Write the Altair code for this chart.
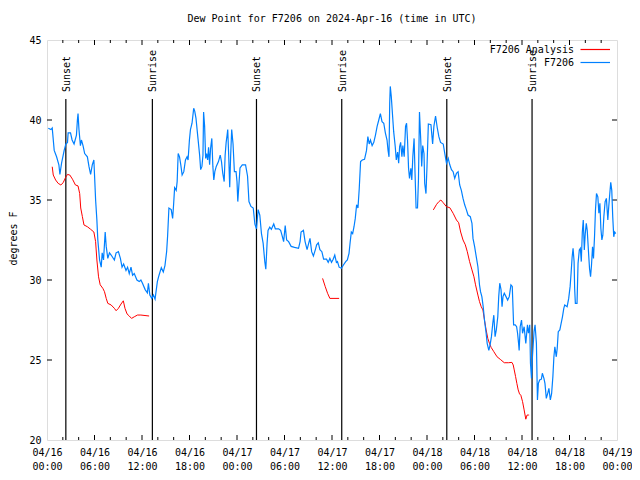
import altair as alt
import pandas as pd

TITLE = "Dew Point for F7206 on 2024-Apr-16 (time in UTC)"
MONO = "DejaVu Sans Mono"

# ---- data (hours since 2024-04-16 00:00 UTC, degrees F) ----
obs_hours = [
    0.16, 0.50, 0.66, 0.91, 1.21, 1.50, 1.63, 1.84, 2.17, 2.38, 2.59, 2.67, 2.97, 3.17, 3.42, 3.72,
    3.84, 3.92, 4.04, 4.22, 4.35, 4.55, 4.76, 5.10, 5.30, 5.51, 5.72, 5.92, 6.01, 6.14, 6.30, 6.42,
    6.64, 6.85, 6.97, 7.14, 7.35, 7.48, 7.68, 7.89, 8.10, 8.51, 8.73, 9.02, 9.27, 9.48, 9.68, 9.98,
    10.18, 10.39, 10.61, 10.81, 11.02, 11.36, 11.65, 11.86, 12.06, 12.40, 12.68, 12.81, 12.99, 13.24,
    13.44, 13.65, 13.94, 14.15, 14.44, 14.69, 14.90, 15.11, 15.24, 15.40, 15.69, 15.87, 15.99, 16.12,
    16.32, 16.44, 16.57, 16.74, 16.90, 17.07, 17.28, 17.49, 17.69, 17.82, 17.99, 18.12, 18.32, 18.53,
    18.66, 18.82, 19.07, 19.28, 19.41, 19.57, 19.70, 19.78, 19.91, 20.04, 20.16, 20.29, 20.41, 20.54,
    20.66, 20.82, 20.95, 21.07, 21.20, 21.38, 21.66, 21.88, 22.04, 22.20, 22.38, 22.50, 22.63, 22.75,
    22.83, 22.95, 23.08, 23.20, 23.33, 23.50, 23.67, 23.88, 24.00, 24.10, 24.38, 24.67, 25.08, 25.33,
    25.51, 25.76, 26.05, 26.26, 26.46, 26.67, 26.88, 27.09, 27.30, 27.51, 27.64, 27.80, 27.92, 28.14,
    28.34, 28.64, 28.84, 29.26, 29.51, 29.68, 29.89, 30.09, 30.27, 30.52, 30.84, 31.27, 31.77, 31.97,
    32.09, 32.39, 32.60, 32.85, 33.06, 33.22, 33.43, 33.65, 33.90, 34.06, 34.27, 34.47, 34.72, 34.94,
    35.31, 35.52, 35.73, 35.94, 36.15, 36.35, 36.56, 36.69, 36.90, 37.19, 37.44, 37.73, 37.94, 38.15,
    38.28, 38.44, 38.61, 38.78, 38.94, 39.11, 39.28, 39.44, 39.61, 39.82, 40.11, 40.36, 40.53, 40.70,
    40.86, 41.07, 41.28, 41.49, 41.70, 41.91, 42.11, 42.32, 42.54, 42.74, 42.95, 43.08, 43.20, 43.29,
    43.36, 43.49, 43.66, 43.79, 43.99, 44.12, 44.29, 44.42, 44.54, 44.67, 44.83, 44.95, 45.12, 45.29,
    45.42, 45.54, 45.67, 45.79, 45.96, 46.08, 46.21, 46.37, 46.49, 46.62, 46.80, 46.92, 47.05, 47.21,
    47.33, 47.46, 47.62, 47.71, 47.87, 48.00, 48.17, 48.50, 48.71, 48.87, 49.08, 49.30, 49.50, 49.71,
    50.05, 50.25, 50.46, 50.68, 50.88, 51.09, 51.30, 51.50, 51.72, 51.93, 52.13, 52.34, 52.55, 52.76,
    52.97, 53.18, 53.47, 53.68, 53.81, 54.01, 54.22, 54.43, 54.63, 54.76, 54.93, 55.10, 55.26, 55.47,
    55.60, 55.81, 55.97, 56.14, 56.31, 56.44, 56.60, 56.76, 56.94, 57.06, 57.19, 57.35, 57.48, 57.60,
    57.76, 57.98, 58.19, 58.39, 58.60, 58.77, 58.94, 59.14, 59.32, 59.44, 59.57, 59.64, 59.77, 59.94,
    60.07, 60.27, 60.48, 60.69, 60.82, 60.98, 61.07, 61.20, 61.32, 61.52, 61.65, 61.82, 61.95, 62.07,
    62.23, 62.45, 62.57, 62.77, 62.90, 63.07, 63.24, 63.40, 63.58, 63.74, 63.90, 64.03, 64.15, 64.33,
    64.45, 64.58, 64.78, 64.95, 65.11, 65.28, 65.40, 65.70, 65.90, 66.08, 66.20, 66.33, 66.45, 66.58,
    66.65, 66.74, 66.95, 67.08, 67.24, 67.37, 67.49, 67.62, 67.74, 67.87, 67.99, 68.12, 68.24, 68.41,
    68.53, 68.66, 68.78, 68.91, 69.03, 69.16, 69.28, 69.41, 69.58, 69.71, 69.84, 69.96, 70.09, 70.21,
    70.34, 70.50, 70.66, 70.84, 70.96, 71.09, 71.21, 71.34, 71.46, 71.59, 71.71, 71.84,
]
obs_values = [
    39.48, 39.4, 39.5, 38.1, 37.7, 37.2, 36.6, 37.3, 38.1, 38.5, 38.6, 39.2, 39.2, 38.75, 38.5, 39.06,
    40.0, 40.4, 39.4, 38.4, 38.75, 38.4, 37.9, 37.7, 37.1, 36.6, 37.2, 37.5, 36.5, 35.0, 33.75, 32.5,
    31.25, 30.8, 31.7, 31.25, 33.0, 32.1, 31.35, 31.7, 31.56, 31.25, 31.7, 31.77, 31.35, 30.8, 31.0, 30.6,
    30.8, 30.4, 30.8, 30.3, 30.4, 30.0, 29.9, 30.0, 29.8, 29.4, 29.2, 29.8, 29.06, 28.85,
    29.06, 28.8, 29.9, 30.3, 30.77, 30.5, 30.9, 31.77, 32.8, 34.5, 34.4, 33.85, 34.7, 35.77,
    35.6, 36.15, 37.9, 37.7, 37.2, 36.56, 36.77, 37.5, 37.7, 37.5, 38.75, 39.4, 39.8, 40.73,
    40.56, 40.1, 38.85, 37.8, 36.9, 37.1, 37.8, 40.5, 39.6, 37.6, 37.9, 37.5, 38.3, 37.2,
    38.2, 38.85, 37.1, 36.25, 36.77, 37.1, 37.4, 37.8, 37.4, 36.67, 36.15, 37.8, 38.6, 39.06,
    39.4, 37.8, 35.8, 37.8, 39.4, 38.5, 36.77, 36.77, 36.15, 34.9, 37.0, 37.2, 37.2, 36.5,
    34.9, 34.6, 34.5, 33.5, 33.2, 34.4, 34.06, 32.9, 32.3, 31.15, 30.67, 32.3, 33.1, 33.3,
    33.17, 33.5, 33.2, 33.2, 33.1, 32.8, 32.4, 33.4, 32.5, 32.4, 32.1, 32.04, 31.98, 32.4,
    33.0, 33.1, 32.4, 31.9, 32.3, 32.6, 31.77, 31.5, 31.9, 32.2, 32.33, 31.9, 31.77, 31.3,
    31.3, 31.1, 31.35, 31.1, 31.3, 31.56, 31.1, 31.15, 30.8, 30.73, 30.94, 31.15, 31.25, 31.67,
    32.3, 33.0, 32.9, 33.33, 33.85, 34.7, 34.5, 35.7, 37.4, 37.5, 37.54, 38.1, 38.96, 38.5,
    38.75, 38.4, 38.6, 39.06, 39.6, 40.0, 40.4, 39.9, 39.8, 39.2, 38.75, 38.1, 37.7, 41.04,
    42.1, 41.46, 40.2, 39.27, 38.33, 37.5, 38.0, 37.3, 38.33, 38.6, 37.7, 38.4, 37.7, 39.6,
    39.8, 38.75, 36.98, 36.35, 36.98, 36.25, 37.7, 38.85, 36.67, 34.5, 34.5, 36.25, 40.5, 38.75,
    37.1, 38.4, 37.9, 36.04, 35.4, 37.1, 39.75, 39.7, 38.5, 39.6, 40.25, 39.5, 38.96, 38.6,
    38.5, 37.9, 37.3, 37.6, 37.2, 36.9, 36.77, 36.35, 36.67, 36.77, 35.94, 35.6, 35.1, 34.7,
    34.4, 34.06, 33.96, 33.54, 32.6, 32.1, 31.46, 30.83, 29.7, 29.27, 28.96, 28.33, 27.5, 26.67,
    26.04, 25.6, 25.94, 26.46, 27.3, 27.8, 26.46, 26.9, 27.7, 28.96, 29.8, 29.4, 28.33, 28.96,
    29.17, 28.96, 28.75, 28.96, 29.7, 29.6, 27.2, 27.2, 27.08, 26.67, 26.04, 25.6, 27.08, 27.5,
    26.67, 27.08, 26.04, 27.2, 26.67, 27.2, 24.8, 23.85, 25.2, 26.77, 27.2, 26.04, 22.5, 23.54,
    23.75, 23.8, 24.17, 23.85, 23.54, 22.6, 22.9, 23.23, 22.5, 22.9, 23.96, 25.2, 25.83, 25.2,
    25.73, 26.77, 26.88, 27.3, 27.7, 28.23, 28.44, 28.33, 28.85, 29.6, 30.42, 31.42, 31.98, 31.15,
    29.48, 28.54, 28.54, 31.04, 31.88, 31.98, 31.15, 33.0, 33.75, 31.88, 32.9, 33.54, 33.1, 31.67,
    30.73, 30.2, 30.94, 32.08, 31.35, 32.7, 34.38, 35.4, 35.2, 34.17, 34.8, 33.23, 32.5, 32.8,
    33.96, 34.9, 35.1, 33.75, 34.6, 35.4, 36.1, 35.6, 33.96, 32.7, 33.0, 32.9,
]

ana_segment = [1] * 41 + [2] * 5 + [3] * 46
ana_hours = [
    0.66, 0.79, 1.09, 1.41, 1.75, 2.04, 2.34, 2.59, 2.88, 3.22, 3.59, 3.92, 4.13, 4.26, 4.47, 4.67,
    5.10, 5.51, 5.92, 6.14, 6.30, 6.51, 6.72, 7.05, 7.26, 7.48, 7.68, 8.10, 8.51, 8.73, 9.02, 9.35,
    9.64, 9.85, 10.11, 10.39, 10.68, 11.02, 11.43, 11.86, 12.90,
    34.81, 35.15, 35.44, 35.73, 36.90,
    48.80, 49.21, 49.50, 49.75, 50.05, 50.46, 50.88, 51.30, 51.72, 52.00, 52.25, 52.55, 52.84, 53.09,
    53.38, 53.68, 53.93, 54.13, 54.43, 54.63, 54.85, 55.06, 55.26, 55.47, 55.68, 55.89, 56.10, 56.44,
    56.85, 57.26, 57.76, 58.27, 58.73, 58.89, 59.02, 59.19, 59.35, 59.52, 59.69, 59.85, 60.07, 60.27,
    60.48, 60.64, 60.82, 60.90,
]
ana_values = [
    37.08, 36.56, 36.25, 36.04, 35.94, 36.08, 36.4, 36.6, 36.56, 36.3, 35.94, 35.88, 35.4, 34.5, 33.96, 33.44,
    33.33, 33.17, 33.0, 32.4, 31.25, 30.2, 29.7, 29.48, 29.27, 28.85, 28.54, 28.44, 28.23, 28.08, 28.23, 28.5,
    28.7, 28.23, 27.88, 27.75, 27.6, 27.7, 27.81, 27.81, 27.75,
    30.1, 29.58, 29.17, 28.85, 28.85,
    34.38, 34.73, 34.9, 35.0, 34.83, 34.58, 34.52, 34.17, 33.75, 33.58, 33.0, 32.5, 32.2, 31.77,
    31.15, 30.63, 30.2, 29.7, 29.06, 28.65, 28.33, 28.13, 27.5, 26.88, 26.35, 26.04, 25.79, 25.52,
    25.2, 25.04, 24.83, 24.83, 24.85, 24.69, 24.38, 23.96, 23.54, 23.13, 22.88, 22.8, 22.4, 21.88,
    21.3, 21.56, 21.56, 21.56,
]

sun_events = ["Sunset", "Sunrise", "Sunset", "Sunrise", "Sunset", "Sunrise"]
sun_hours = [2.38, 13.31, 26.46, 37.23, 50.50, 61.27]

series_names = ["F7206 Analysis", "F7206"]
series_colors = ["#ff0000", "#0080ff"]

x_tick_hours = list(range(2, 72, 2))
x_label_hours = list(range(0, 73, 6))
y_ticks = [20, 25, 30, 35, 40, 45]

# ---- style constants ----
X_MIN, X_MAX, Y_MIN, Y_MAX = 0, 72, 20, 45
W, H = 570, 400
PX_H = (X_MAX - X_MIN) / W     # hours per pixel
PX_V = (Y_MAX - Y_MIN) / H     # degrees per pixel
SUN_LINE_TOP = Y_MAX - 59 * PX_V
SUN_TEXT_Y = Y_MAX - 52 * PX_V

obs = pd.DataFrame({"h": obs_hours, "v": obs_values})
ana = pd.DataFrame({"h": ana_hours, "v": ana_values, "seg": ana_segment})
sun = pd.DataFrame({"h": sun_hours, "name": sun_events,
                    "v": [SUN_LINE_TOP] * len(sun_hours), "v2": [Y_MIN] * len(sun_hours),
                    "vt": [SUN_TEXT_Y] * len(sun_hours)})

rows = []
for hh in x_tick_hours:
    ln = (5 if hh % 6 == 0 else 3) * PX_V
    rows.append({"h": hh, "h2": hh, "v": Y_MIN, "v2": Y_MIN + ln})
    rows.append({"h": hh, "h2": hh, "v": Y_MAX, "v2": Y_MAX - ln})
for yv in y_ticks[1:-1]:
    rows.append({"h": X_MIN, "h2": X_MIN + 5 * PX_H, "v": yv, "v2": yv})
    rows.append({"h": X_MAX, "h2": X_MAX - 5 * PX_H, "v": yv, "v2": yv})
ticks = pd.DataFrame(rows)

leg = pd.DataFrame({
    "name": series_names,
    "v": [Y_MAX - 9.5 * PX_V, Y_MAX - 22.5 * PX_V],
    "ht": [X_MIN + 527 * PX_H] * 2,
    "h1": [X_MIN + 533.5 * PX_H] * 2,
    "h2": [X_MIN + 563 * PX_H] * 2,
})

xscale = alt.Scale(domain=[X_MIN, X_MAX], nice=False, zero=False)
yscale = alt.Scale(domain=[Y_MIN, Y_MAX], nice=False, zero=False)
xaxis = alt.Axis(
    values=x_label_hours, ticks=False, domain=False, grid=False,
    labelExpr="['04/' + format(16 + floor(datum.value / 24), '02d'), format(datum.value % 24, '02d') + ':00']",
    labelFont=MONO, labelFontSize=10, labelColor="black", labelPadding=7,
    labelLineHeight=14, labelAngle=0, labelFlush=False, labelOverlap=False,
)
yaxis = alt.Axis(
    values=y_ticks, ticks=False, domain=False, grid=False,
    labelFont=MONO, labelFontSize=10, labelColor="black", labelPadding=6,
    labelFlush=False, labelOverlap=False,
    titleFont=MONO, titleFontSize=10, titleFontWeight="normal", titleColor="black",
    titleX=-39, titleY=198, titleAngle=270, titleBaseline="top", titleAlign="center",
)


def X(field):
    return alt.X(f"{field}:Q", scale=xscale, axis=xaxis, title=None)


def Y(field):
    return alt.Y(f"{field}:Q", scale=yscale, axis=yaxis, title="degrees F")


color_scale = alt.Scale(domain=series_names, range=series_colors)

obs_line = alt.Chart(obs).mark_line(color=series_colors[1], strokeWidth=1.2).encode(
    x=X("h"), y=Y("v"), order="h:Q")
ana_line = alt.Chart(ana).mark_line(color=series_colors[0], strokeWidth=1).encode(
    x=X("h"), y=Y("v"), detail="seg:N", order="h:Q")

sun_rules = alt.Chart(sun).mark_rule(color="black", strokeWidth=1.2).encode(
    x=X("h"), y=Y("v"), y2="v2:Q")
sun_text = alt.Chart(sun).mark_text(
    angle=270, align="left", baseline="middle", font=MONO, fontSize=10, color="black", dy=1
).encode(x=X("h"), y=Y("vt"), text="name:N")

tick_rules = alt.Chart(ticks).mark_rule(color="black", strokeWidth=1).encode(
    x=X("h"), x2="h2:Q", y=Y("v"), y2="v2:Q")

leg_text = alt.Chart(leg).mark_text(
    align="right", baseline="middle", font=MONO, fontSize=10, color="black"
).encode(x=X("ht"), y=Y("v"), text="name:N")
leg_line = alt.Chart(leg).mark_rule(strokeWidth=1.2).encode(
    x=X("h1"), x2="h2:Q", y=Y("v"),
    color=alt.Color("name:N", scale=color_scale, legend=None))

chart = alt.layer(
    tick_rules, sun_rules, sun_text, ana_line, obs_line, leg_text, leg_line
).properties(
    width=W, height=H,
    title=alt.TitleParams(TITLE, font=MONO, fontSize=10, fontWeight="normal",
                          color="black", anchor="middle", offset=11),
    autosize=alt.AutoSizeParams(type="none"),
    padding={"left": 39, "top": 32, "right": 15, "bottom": 32},
).configure_view(stroke="black", strokeWidth=1).configure(background="white")

chart.save("out.html", embed_options={"renderer": "svg", "actions": False})
